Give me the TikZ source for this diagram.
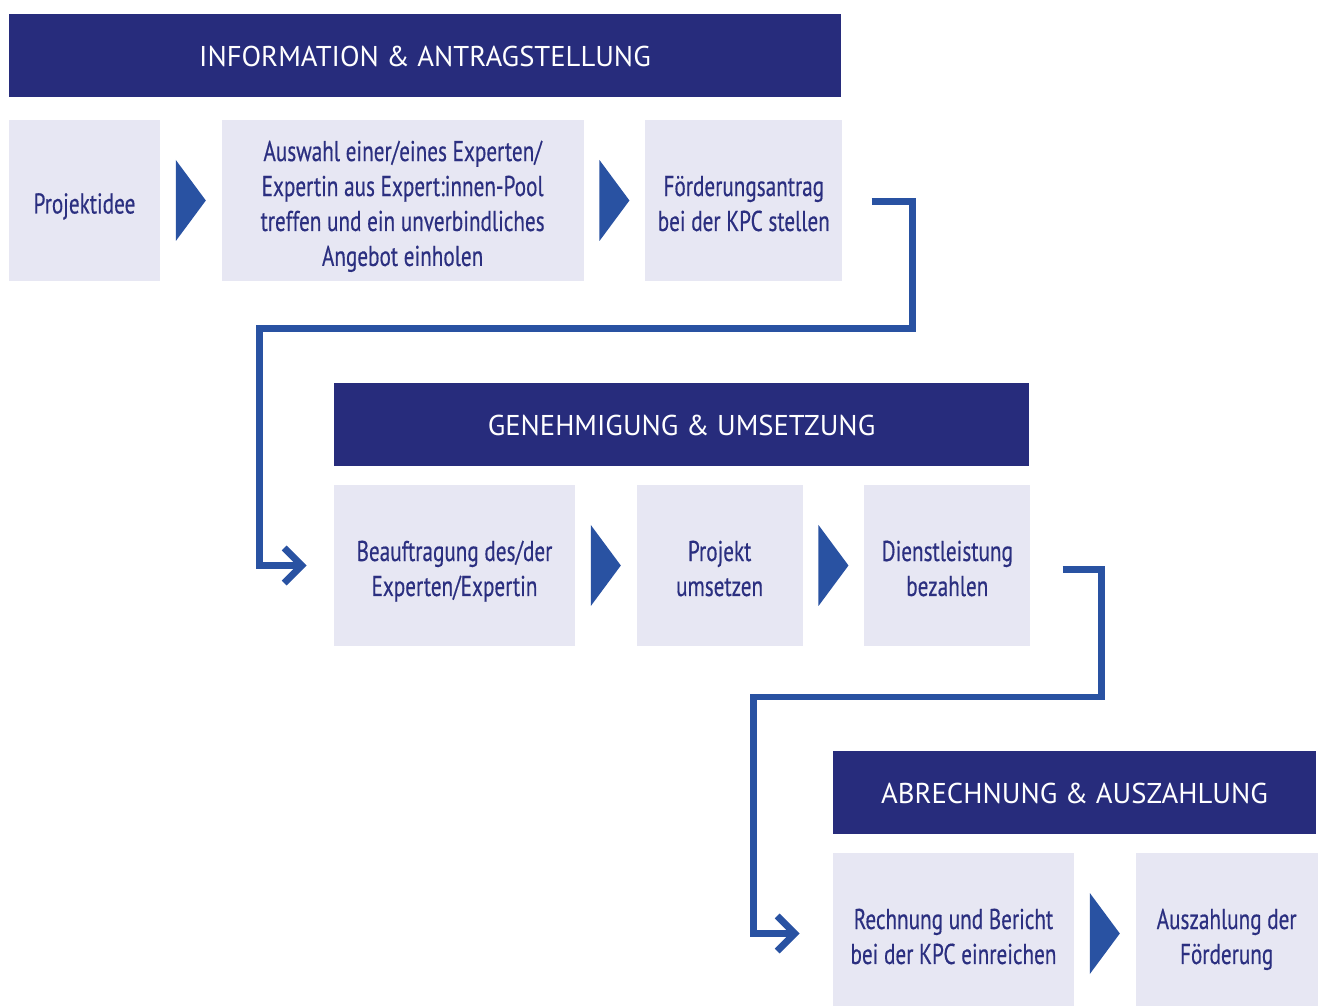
\documentclass[tikz,border=0pt]{standalone}
\usepackage{fontspec}
\setmainfont{PT Sans}
\newfontfamily\condfont[FakeStretch=0.74,FakeBold=0.4]{PT Sans}
\usetikzlibrary{arrows.meta,calc}
\usetikzlibrary{positioning}
\definecolor{kpcnavy}{HTML}{272C7C}
\definecolor{kpcblue}{HTML}{2952A2}
\definecolor{kpclight}{HTML}{E7E7F3}
\definecolor{kpctext}{HTML}{2B2F80}
\newcommand{\topline}{\rule{0pt}{0.66cm}}
\tikzset{
    phase/.style = {fill=kpcnavy, text=white, minimum height=1.66cm, inner sep=0pt,
                 text height=0.6cm, text depth=0.14cm,
                 font=\fontsize{16.3}{19.9}\selectfont},
    stepbox/.style = {fill=kpclight, text=kpctext, minimum height=3.22cm, inner sep=0pt,
                 align=center, font=\condfont\fontsize{16.3}{19.9}\selectfont,
                 execute at end node={\rule[-0.14cm]{0pt}{0.14cm}}},
    flow/.style = {draw=kpcblue, line width=0.14cm,
                 -{Straight Barb[length=0.35cm,width=0.7cm]}},
}
\newcommand{\flowtri}[2]{\fill[kpcblue] ($(#1.east)!0.5!(#2.west)+(-15,-40.5)$) -- ++(30,40.5) -- ++(-30,40.5) -- cycle;}

\begin{document}
\begin{tikzpicture}[x=0.02cm,y=-0.02cm]
\useasboundingbox (0,0) rectangle (1319,1006);
 % phase 1
 \node (info) [phase, minimum width=16.64cm] at (425,55.5) {INFORMATION \& ANTRAGSTELLUNG};
 \node (idee) [stepbox, minimum width=3.02cm] at (84.5,200.5) {\topline Projektidee};
 \node (wahl) [stepbox, minimum width=7.24cm, right=1.22cm of idee] {\topline Auswahl einer/eines Experten/\\Expertin aus Expert:innen-Pool\\treffen und ein unverbindliches\\Angebot einholen};
 \node (antrag) [stepbox, minimum width=3.94cm, right=1.22cm of wahl] {\topline Förderungsantrag\\bei der KPC stellen};
 % phase 2
 \node (genehm) [phase, minimum width=13.9cm] at (681.5,424.5) {GENEHMIGUNG \& UMSETZUNG};
 \node (auftrag) [stepbox, minimum width=4.82cm] at (454.5,565.5) {\topline Beauftragung des/der\\Experten/Expertin};
 \node (umsetz) [stepbox, minimum width=3.32cm, right=1.22cm of auftrag] {\topline Projekt\\umsetzen};
 \node (zahlen) [stepbox, minimum width=3.32cm, right=1.22cm of umsetz] {\topline Dienstleistung\\bezahlen};
 % phase 3
 \node (abrech) [phase, minimum width=9.66cm] at (1074.5,792.5) {ABRECHNUNG \& AUSZAHLUNG};
 \node (rechn) [stepbox, minimum width=4.82cm] at (953.5,933.5) {\topline Rechnung und Bericht\\bei der KPC einreichen};
 \node (auszahl) [stepbox, minimum width=3.64cm, right=1.22cm of rechn] {\topline Auszahlung der\\Förderung};

\flowtri{idee}{wahl}
\flowtri{wahl}{antrag}
\flowtri{auftrag}{umsetz}
\flowtri{umsetz}{zahlen}
\flowtri{rechn}{auszahl}

\draw[flow] (antrag.east) ++(29,1.5) -- ++(41,0) -- ++(0,127) -| ([xshift=-1.48cm]auftrag.west) -- ([xshift=-0.54cm]auftrag.west);
\draw[flow] (zahlen.east) ++(32,4.5) -- ++(39,0) -- ++(0,127) -| ([xshift=-1.58cm]rechn.west) -- ([xshift=-0.66cm]rechn.west);
\end{tikzpicture}
\end{document}
